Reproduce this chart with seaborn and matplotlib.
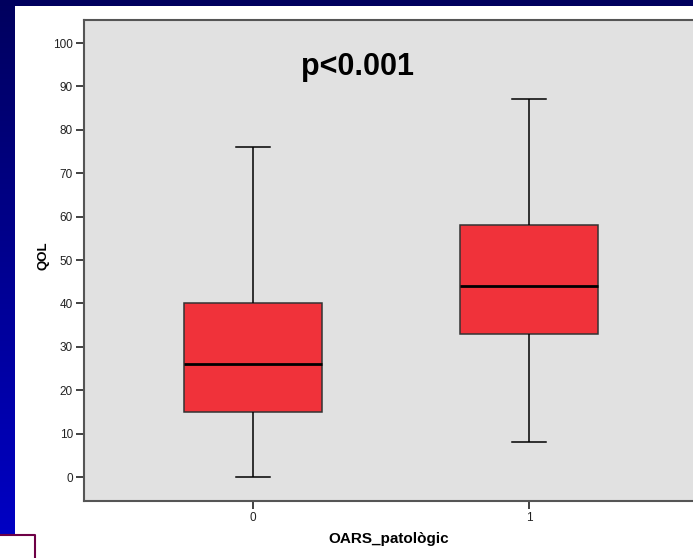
import numpy as np
import pandas as pd
import matplotlib
matplotlib.use("Agg")
import matplotlib.pyplot as plt
import seaborn as sns
from matplotlib.patches import Rectangle
from matplotlib.lines import Line2D

# ---- data (five-number summaries) ----
groups = ["0", "1"]
q_min = [0, 8]
q1 = [15, 33]
median = [26, 44]
q3 = [40, 58]
q_max = [76, 87]
yticks = list(range(0, 101, 10))
annotation = "p<0.001"
xlabel = "OARS_patològic"
ylabel = "QOL"

rows = []
for g, a, b, c, d, e in zip(groups, q_min, q1, median, q3, q_max):
    for v in (a, b, c, d, e):
        rows.append({xlabel: g, ylabel: v})
df = pd.DataFrame(rows)

plt.rcParams["font.family"] = ["Liberation Sans", "DejaVu Sans"]

W, H = 693, 558
fig = plt.figure(figsize=(W / 100, H / 100), dpi=100, facecolor="white")

# slide decoration: top navy band and left gradient strip
fig.patches.append(Rectangle((0, 1 - 6 / H), 1, 6 / H, transform=fig.transFigure,
                             facecolor="#00005E", edgecolor="none", zorder=0))
gax = fig.add_axes([0, 23 / H, 15 / W, 1 - 23 / H])
grad = np.linspace(0, 1, 256).reshape(-1, 1)
top = np.array([0, 0, 94]) / 255
bot = np.array([0, 0, 196]) / 255
img = top[None, None, :] * (1 - grad[:, :, None]) + bot[None, None, :] * grad[:, :, None]
gax.imshow(img, aspect="auto", extent=[0, 1, 0, 1])
gax.set_axis_off()
fig.add_artist(Line2D([0, 35 / W, 35 / W], [23 / H, 23 / H, 0], transform=fig.transFigure,
                      color="#6E0046", linewidth=1.5))

ax = fig.add_axes([84 / W, 57 / H, (W - 84) / W, 481 / H])
sns.boxplot(data=df, x=xlabel, y=ylabel, order=groups, width=0.5,
            color="#F0323A", saturation=1, linecolor="black", linewidth=1.1,
            whis=1.5, capwidths=0.125, showfliers=False,
            medianprops=dict(linewidth=2, color="black"),
            boxprops=dict(edgecolor="#333333"),
            ax=ax)
ax.set_facecolor("#E1E1E1")
ax.set_xlim(-0.612, 1.594)
ax.set_ylim(-5.5, 105.3)
ax.set_yticks(yticks)
ax.set_yticklabels([str(t) for t in yticks])
for s in ["left", "bottom", "top"]:
    ax.spines[s].set_color("#555555")
    ax.spines[s].set_linewidth(1.5)
ax.spines["right"].set_visible(False)
ax.tick_params(axis="both", length=6, width=1.3, color="#333333",
               labelsize=8.5, labelcolor="#222222", pad=2)
ax.set_xlabel(xlabel, fontsize=11, fontweight="bold")
ax.set_ylabel(ylabel, fontsize=9.5, fontweight="bold")
ax.xaxis.set_label_coords(0.5, -38 / 481, transform=ax.transAxes)
ax.yaxis.set_label_coords(-40 / 609, 0.511, transform=ax.transAxes)
ax.xaxis.label.set_va("center")
ax.yaxis.label.set_va("center")
ax.text(0.377, 94.5, annotation, fontsize=22, fontweight="bold",
        ha="center", va="center", color="black")

fig.savefig("out.png", dpi=100, facecolor="white")
